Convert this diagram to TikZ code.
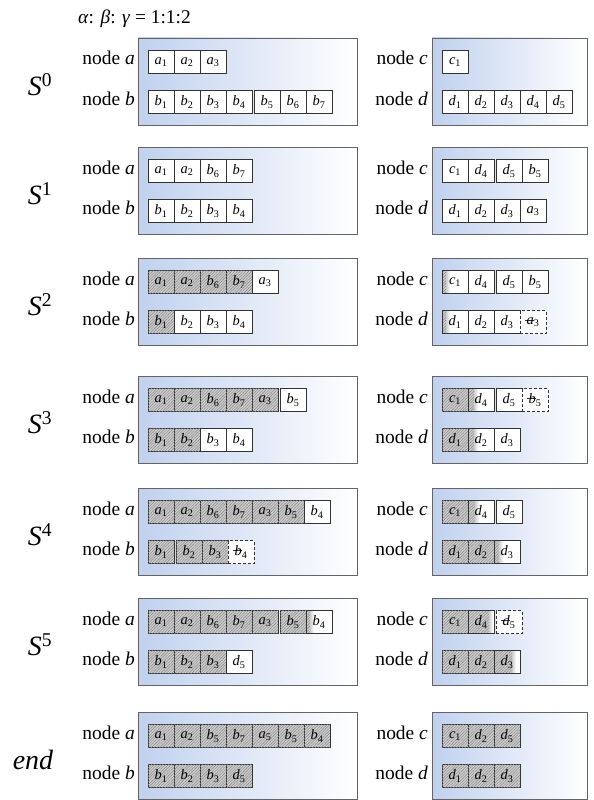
\documentclass[tikz,border=0pt]{standalone}
\usepackage{fontspec}
\setmainfont{Liberation Serif}
\usetikzlibrary{patterns.meta}

\definecolor{panelblue}{RGB}{192,209,238}
\definecolor{framegray}{RGB}{100,100,100}
\definecolor{hatchbg}{RGB}{205,205,205}
\definecolor{hatchline}{RGB}{135,135,135}

\tikzset{
  panel/.style={draw=framegray, line width=0.7bp, left color=panelblue, right color=white},
  cellbox/.style={draw=black!80, line width=0.6bp, fill=white, minimum width=26bp,
    minimum height=23bp, inner sep=0pt, font=\fontsize{14.5}{16}\selectfont},
  plain/.style={},
  hatch/.style={fill=hatchbg, postaction={pattern={Lines[angle=45,distance=2bp,line width=0.45bp]}, pattern color=hatchline}},
  % hatched strip of width #1 on the left, softened into white
  part/.style={path picture={
    \fill[hatchbg] (path picture bounding box.south west) rectangle ([xshift=#1bp]path picture bounding box.north west);
    \fill[pattern={Lines[angle=45,distance=2bp,line width=0.45bp]}, pattern color=hatchline]
      (path picture bounding box.south west) rectangle ([xshift=#1bp]path picture bounding box.north west);
    \shade[left color=hatchbg, right color=white]
      ([xshift=#1bp]path picture bounding box.south west) rectangle ([xshift=#1bp+4bp]path picture bounding box.north west);
  }},
  % removed entry: dashed frame, struck-through name
  ghost/.style={dash pattern=on 3bp off 2bp, path picture={
    \draw[solid, line width=0.6bp] ([xshift=-8bp,yshift=1.5bp]path picture bounding box.center) -- ++(9bp,0);
  }},
  lbl/.style={font=\fontsize{19.5}{22}\selectfont, anchor=base east, inner sep=0pt},
  stagelbl/.style={font=\fontsize{28}{30}\selectfont, anchor=base, inner sep=0pt},
  titlelbl/.style={font=\fontsize{19.5}{22}\selectfont, anchor=base west, inner sep=0pt},
}

\newcommand\ci[2]{\textit{#1}\textsubscript{#2}}

% #1 name prefix, #2 left edge of first cell, #3 row centre, #4 cells before a gap (99 = none), #5 style/letter/index list
\newcommand\cellrow[5]{%
  \foreach [count=\i] \st/\l/\s in {#5} {%
    \pgfmathsetmacro\cx{#2+(\i-1)*26+13+(\i>#4)*2}%
    \edef\mknode{\noexpand\node[cellbox,\st] (#1\i) at (\cx,#3)}%
    \mknode {\ci{\l}{\s}};
  }%
}

% #1 top of the stage, #2 name prefix
\newcommand\stagebg[2]{%
  \draw[panel] (138,#1) rectangle (357,#1+87);
  \draw[panel] (432,#1) rectangle (587,#1+87);
  \node[lbl] (#2la) at (135,#1+27) {node \textit{a}};
  \node[lbl] (#2lb) at (135,#1+67) {node \textit{b}};
  \node[lbl] (#2lc) at (428,#1+27) {node \textit{c}};
  \node[lbl] (#2ld) at (428,#1+67) {node \textit{d}};
}

\begin{document}
\begin{tikzpicture}[x=1bp,y=-1bp]
\useasboundingbox (0,0) rectangle (594,800);

\node[titlelbl] (title) at (78,24) {\textit{α}: \textit{β}: \textit{γ} = 1:1:2};

% ---- S0
\stagebg{38}{s0}
\node[stagelbl] (s0name) at (40,95) {\textit{S}\textsuperscript{0}};
\cellrow{s0a}{148}{62}{99}{plain/a/1,plain/a/2,plain/a/3}
\cellrow{s0b}{148}{102}{4}{plain/b/1,plain/b/2,plain/b/3,plain/b/4,plain/b/5,plain/b/6,plain/b/7}
\cellrow{s0c}{442}{62}{99}{plain/c/1}
\cellrow{s0d}{442}{102}{99}{plain/d/1,plain/d/2,plain/d/3,plain/d/4,plain/d/5}

% ---- S1
\stagebg{147}{s1}
\node[stagelbl] (s1name) at (40,204) {\textit{S}\textsuperscript{1}};
\cellrow{s1a}{148}{171}{99}{plain/a/1,plain/a/2,plain/b/6,plain/b/7}
\cellrow{s1b}{148}{211}{99}{plain/b/1,plain/b/2,plain/b/3,plain/b/4}
\cellrow{s1c}{442}{171}{2}{plain/c/1,plain/d/4,plain/d/5,plain/b/5}
\cellrow{s1d}{442}{211}{99}{plain/d/1,plain/d/2,plain/d/3,plain/a/3}

% ---- S2
\stagebg{258}{s2}
\node[stagelbl] (s2name) at (40,315) {\textit{S}\textsuperscript{2}};
\cellrow{s2a}{148}{282}{99}{hatch/a/1,hatch/a/2,hatch/b/6,hatch/b/7,plain/a/3}
\cellrow{s2b}{148}{322}{99}{hatch/b/1,plain/b/2,plain/b/3,plain/b/4}
\cellrow{s2c}{442}{282}{2}{part=4/c/1,plain/d/4,plain/d/5,plain/b/5}
\cellrow{s2d}{442}{322}{99}{part=4/d/1,plain/d/2,plain/d/3,ghost/a/3}

% ---- S3
\stagebg{376}{s3}
\node[stagelbl] (s3name) at (40,433) {\textit{S}\textsuperscript{3}};
\cellrow{s3a}{148}{400}{5}{hatch/a/1,hatch/a/2,hatch/b/6,hatch/b/7,hatch/a/3,plain/b/5}
\cellrow{s3b}{148}{440}{99}{hatch/b/1,hatch/b/2,plain/b/3,plain/b/4}
\cellrow{s3c}{442}{400}{2}{hatch/c/1,part=6/d/4,plain/d/5,ghost/b/5}
\cellrow{s3d}{442}{440}{99}{hatch/d/1,part=6/d/2,plain/d/3}

% ---- S4
\stagebg{488}{s4}
\node[stagelbl] (s4name) at (40,545) {\textit{S}\textsuperscript{4}};
\cellrow{s4a}{148}{512}{99}{hatch/a/1,hatch/a/2,hatch/b/6,hatch/b/7,hatch/a/3,hatch/b/5,plain/b/4}
\cellrow{s4b}{148}{552}{1}{hatch/b/1,hatch/b/2,hatch/b/3,ghost/b/4}
\cellrow{s4c}{442}{512}{2}{hatch/c/1,part=7/d/4,plain/d/5}
\cellrow{s4d}{442}{552}{99}{hatch/d/1,hatch/d/2,part=5/d/3}

% ---- S5
\stagebg{598}{s5}
\node[stagelbl] (s5name) at (40,655) {\textit{S}\textsuperscript{5}};
\cellrow{s5a}{148}{622}{5}{hatch/a/1,hatch/a/2,hatch/b/6,hatch/b/7,hatch/a/3,hatch/b/5,part=4/b/4}
\cellrow{s5b}{148}{662}{99}{hatch/b/1,hatch/b/2,hatch/b/3,plain/d/5}
\cellrow{s5c}{442}{622}{2}{hatch/c/1,part=21/d/4,ghost/d/5}
\cellrow{s5d}{442}{662}{99}{hatch/d/1,hatch/d/2,part=18/d/3}

% ---- end
\stagebg{712}{se}
\node[stagelbl] (sename) at (33,769) {\textit{end}};
\cellrow{sea}{148}{736}{99}{hatch/a/1,hatch/a/2,hatch/b/5,hatch/b/7,hatch/a/5,hatch/b/5,hatch/b/4}
\cellrow{seb}{148}{776}{99}{hatch/b/1,hatch/b/2,hatch/b/3,hatch/d/5}
\cellrow{sec}{442}{736}{99}{hatch/c/1,hatch/d/2,hatch/d/5}
\cellrow{sed}{442}{776}{99}{hatch/d/1,hatch/d/2,hatch/d/3}

\end{tikzpicture}
\end{document}
